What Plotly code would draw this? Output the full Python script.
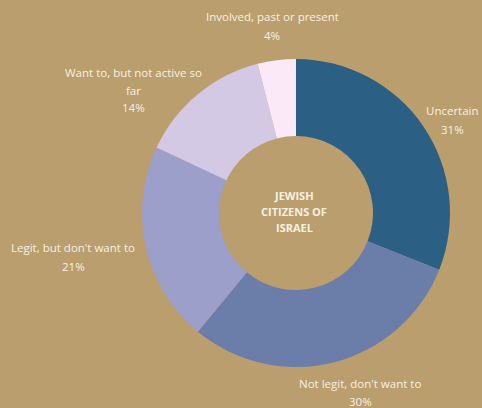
import textwrap
import plotly.graph_objects as go

# Survey shares, clockwise from 12 o'clock
categories = [
    "Uncertain",
    "Not legit, don't want to",
    "Legit, but don't want to",
    "Want to, but not active so far",
    "Involved, past or present",
]
shares = [31, 30, 21, 14, 4]
colors = ["#2c5f84", "#6a7ea9", "#9c9fc9", "#d4c9e4", "#fbe9f8"]
center_title = ["JEWISH", "CITIZENS OF", "ISRAEL"]

W, H = 482, 408
BG = "#ba9e6d"
TXT = "#f7f1e3"

# label anchor (centre x, first-line y) in pixels for each slice
label_pos = [(452, 111), (360, 383), (73, 248), (133, 72), (272, 17)]
LINE = 18

fig = go.Figure(
    go.Pie(
        labels=categories,
        values=shares,
        hole=0.5,
        sort=False,
        direction="clockwise",
        rotation=0,
        marker=dict(colors=colors, line=dict(width=0)),
        textinfo="none",
        hovertemplate="%{label}: %{value}%<extra></extra>",
        domain=dict(x=[142 / W, 450 / W], y=[1 - 367 / H, 1 - 59 / H]),
        showlegend=False,
    )
)

annotations = []
for name, val, (cx, y0) in zip(categories, shares, label_pos):
    lines = textwrap.wrap(name, 26) + [f"{val}%"]
    for i, line in enumerate(lines):
        annotations.append(
            dict(
                text=line,
                x=cx / W,
                y=1 - (y0 + i * LINE) / H,
                xref="paper",
                yref="paper",
                xanchor="center",
                yanchor="middle",
                showarrow=False,
                font=dict(family="Open Sans", size=11.5, color=TXT),
            )
        )

for i, line in enumerate(center_title):
    annotations.append(
        dict(
            text=f"<b>{line}</b>",
            x=294 / W,
            y=1 - (195 + i * 16) / H,
            xref="paper",
            yref="paper",
            xanchor="center",
            yanchor="middle",
            showarrow=False,
            font=dict(family="Open Sans", size=11, color=TXT),
        )
    )

fig.update_layout(
    width=W,
    height=H,
    margin=dict(l=0, r=0, t=0, b=0),
    paper_bgcolor=BG,
    plot_bgcolor=BG,
    annotations=annotations,
)

fig.write_html("out.html")
